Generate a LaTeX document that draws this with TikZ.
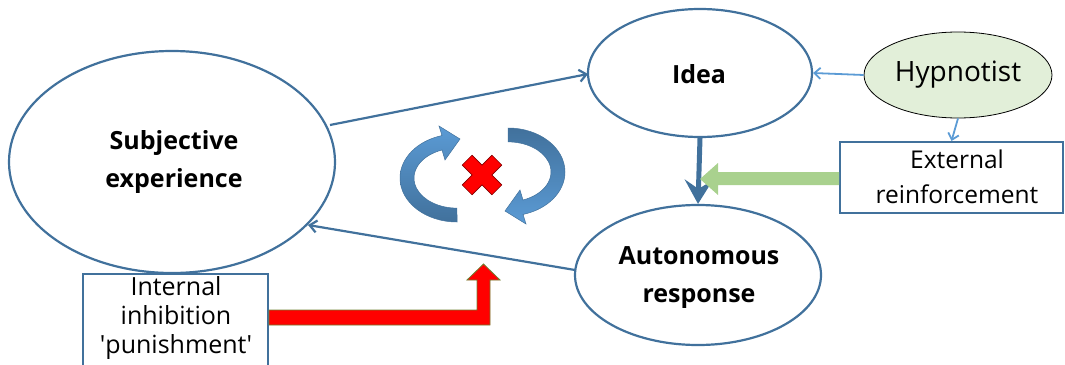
\documentclass[tikz,border=0pt]{standalone}
\usepackage{fontspec}
\setmainfont{Open Sans}
\usetikzlibrary{arrows.meta,shapes.geometric}
\definecolor{dblue}{HTML}{41719C}
\definecolor{lblue}{HTML}{5B9BD5}
\definecolor{hgreen}{HTML}{E2EFD9}
\definecolor{agreen}{HTML}{A9D18E}
\definecolor{olive}{RGB}{110,130,50}
\tikzset{
  ell/.style={ellipse, draw=dblue, line width=2.2pt, inner sep=0pt},
  bigtxt/.style={font=\fontsize{25}{38}\selectfont\bfseries, align=center},
  box/.style={draw=dblue, line width=2pt, inner sep=0pt},
  conn/.style={draw=dblue, line width=2.2pt, -{Straight Barb[length=7pt,width=12pt]}},
  hconn/.style={draw=lblue, line width=1.8pt, -{Straight Barb[length=6pt,width=11pt]}}
}
\begin{document}
\begin{tikzpicture}[x=1pt,y=-1pt]
\useasboundingbox (0,0) rectangle (1065,364);
% nodes
\node[ell, minimum width=326pt, minimum height=222pt] (subj) at (172,162) {};
\node[bigtxt] (subjt) at (174,162) {Subjective\\experience};
\node[ell, minimum width=224pt, minimum height=128pt] (idea) at (700,73) {};
\node[bigtxt] (ideat) at (699,74) {Idea};
\node[ell, minimum width=246pt, minimum height=140pt] (auto) at (698,275) {};
\node[bigtxt] (autot) at (699,278) {Autonomous\\response};
\node[ellipse, draw=black, line width=0.8pt, fill=hgreen, minimum width=166pt, minimum height=86pt,
      font=\fontsize{28}{30}\selectfont] (hyp) at (958,75) {Hypnotist};
\node[box, minimum width=223pt, minimum height=71pt] (ext) at (951.5,177.5) {};
\node[font=\fontsize{24.5}{35}\selectfont, align=center] (extt) at (957,177) {External\\reinforcement};
\node[box, minimum width=185pt, minimum height=110pt, anchor=north west] (int) at (82,273) {};
\node[font=\fontsize{25}{29}\selectfont, align=center, anchor=north, inner sep=0pt] (intt) at (176,276) {Internal\\inhibition\\\textquotesingle punishment\textquotesingle};
% connectors
\coordinate (s1) at (330,125);
\coordinate (i1) at (588,74);
\draw[conn] (s1) -- (i1);
\coordinate (a1) at (575,270);
\coordinate (s2) at (308,225);
\draw[conn] (a1) -- (s2);
\draw[hconn] (hyp.west) -- (idea.east);
\draw[hconn] (hyp.south) -- (ext.north);
\draw[draw=dblue, line width=5pt, -{Stealth[length=24pt,width=28pt,inset=9pt]}] (idea.south) -- (auto.north);
% green block arrow
\fill[agreen] (ext.west |- 0,172) -- (718,172) -- (718,163) -- (700,179) -- (718,195) -- (718,185) -- (ext.west |- 0,185) -- cycle;
% red block arrow
\filldraw[fill=red, draw=olive, line width=0.8pt] (int.east |- 0,310) -- (477,310) -- (477,280) -- (467,280) -- (483.5,264) -- (500,280) -- (490,280) -- (490,325) -- (int.east |- 0,325) -- cycle;
% circular arrows
\newcommand{\circarrow}{(457,222) arc[start angle=90, end angle=254.7, x radius=57, y radius=44] -- (439,126) -- (460,139) -- (445,160) -- (442,150) arc[start angle=249.6, end angle=90, x radius=43, y radius=30] -- cycle}
\shade[top color=lblue, bottom color=dblue, draw=dblue, line width=0.5pt] \circarrow;
\begin{scope}[rotate around={180:(482.5,175)}]
\shade[top color=dblue, bottom color=lblue, draw=dblue, line width=0.5pt] \circarrow;
\end{scope}
% red X
\begin{scope}[shift={(482,175)}, rotate=45]
\filldraw[fill=red, draw=red!50!black, line width=0.6pt] (-7,-21) -- (7,-21) -- (7,-7) -- (21,-7) -- (21,7) -- (7,7) -- (7,21) -- (-7,21) -- (-7,7) -- (-21,7) -- (-21,-7) -- (-7,-7) -- cycle;
\end{scope}
\end{tikzpicture}
\end{document}
